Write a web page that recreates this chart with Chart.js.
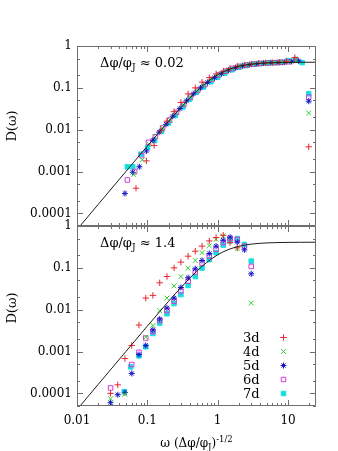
<!DOCTYPE html>
<html>
<head>
<meta charset="utf-8">
<script src="https://cdn.jsdelivr.net/npm/chart.js@4.4.1/dist/chart.umd.min.js"></script>
<style>
  html, body { margin: 0; padding: 0; background: #fff; }
  #wrap { position: relative; width: 338px; height: 451px; }
  #wrap canvas { position: absolute; left: 0; top: 0; }
</style>
</head>
<body>
<div id="wrap">
  <canvas id="panelTop" width="338" height="451"></canvas>
  <canvas id="panelBottom" width="338" height="451"></canvas>
</div>
<script>
// ---- axes ----
const xMin = 0.01, xMax = 25;
const yMin = 5e-5, yMax = 1;
const xTickValues = [0.01, 0.1, 1, 10];
const xTickLabels = ['0.01', '0.1', '1', '10'];
const yTickValues = [1, 0.1, 0.01, 0.001, 0.0001];
const yTickLabels = ['1', '0.1', '0.01', '0.001', '0.0001'];

// ---- series ----
const seriesNames = ['3d', '4d', '5d', '6d', '7d'];
const panelValues = ['0.02', '1.4'];

// reference curve D(ω)
const curveX = [0.01, 0.02, 0.05, 0.1, 0.15, 0.2, 0.3, 0.4, 0.5, 0.6, 0.7, 0.8, 1.0, 1.2, 1.5, 2.0, 2.5, 3.0, 4.0, 5.0, 7.0, 10, 15, 25];
const curveY = [4.1e-5, 1.64e-4, 1.02e-3, 0.00406, 0.009, 0.0158, 0.0338, 0.0566, 0.082, 0.109, 0.135, 0.16, 0.205, 0.242, 0.284, 0.328, 0.353, 0.369, 0.386, 0.394, 0.402, 0.406, 0.408, 0.409];

// Δφ/φJ ≈ 0.02
const top3dX = [0.069, 0.097, 0.125, 0.155, 0.19, 0.24, 0.30, 0.38, 0.48, 0.60, 0.76, 0.95, 1.2, 1.5, 1.9, 2.4, 3.0, 3.8, 4.8, 6.0, 7.6, 9.5, 12.5, 19.7];
const top3dY = [0.0004, 0.0018, 0.0042, 0.0095, 0.016, 0.027, 0.045, 0.072, 0.10, 0.137, 0.175, 0.215, 0.25, 0.29, 0.33, 0.35, 0.37, 0.385, 0.395, 0.40, 0.41, 0.43, 0.53, 0.0039];
const top4dX = [0.064, 0.085, 0.105, 0.13, 0.165, 0.21, 0.26, 0.33, 0.41, 0.52, 0.65, 0.82, 1.03, 1.3, 1.6, 2.1, 2.6, 3.3, 4.1, 5.2, 6.5, 8.2, 10.3, 13, 19.7];
const top4dY = [0.00085, 0.0019, 0.0045, 0.0068, 0.011, 0.017, 0.026, 0.040, 0.060, 0.088, 0.12, 0.16, 0.21, 0.255, 0.29, 0.33, 0.355, 0.375, 0.39, 0.40, 0.405, 0.41, 0.42, 0.45, 0.025];
const top5dX = [0.048, 0.062, 0.077, 0.097, 0.12, 0.147, 0.185, 0.23, 0.29, 0.36, 0.45, 0.57, 0.72, 0.9, 1.13, 1.42, 1.8, 2.26, 2.85, 3.6, 4.5, 5.7, 7.2, 9.0, 11.3, 14.2, 19.7];
const top5dY = [0.0003, 0.00096, 0.0013, 0.0031, 0.0056, 0.0087, 0.0135, 0.021, 0.032, 0.049, 0.072, 0.10, 0.135, 0.175, 0.22, 0.265, 0.305, 0.335, 0.36, 0.375, 0.39, 0.40, 0.405, 0.41, 0.43, 0.44, 0.048];
const top6dX = [0.052, 0.066, 0.083, 0.104, 0.13, 0.165, 0.207, 0.26, 0.33, 0.41, 0.52, 0.66, 0.83, 1.04, 1.31, 1.65, 2.07, 2.6, 3.3, 4.1, 5.2, 6.6, 8.3, 10.4, 13.1, 19.7];
const top6dY = [0.00063, 0.001, 0.0024, 0.005, 0.0068, 0.011, 0.017, 0.026, 0.040, 0.06, 0.087, 0.12, 0.16, 0.205, 0.25, 0.29, 0.325, 0.35, 0.37, 0.385, 0.395, 0.40, 0.41, 0.42, 0.46, 0.06];
const top7dX = [0.052, 0.062, 0.081, 0.101, 0.127, 0.16, 0.2, 0.25, 0.32, 0.4, 0.5, 0.63, 0.8, 1.0, 1.26, 1.6, 2.0, 2.5, 3.2, 4.0, 5.0, 6.3, 8.0, 10, 12.8, 15.9, 19.7];
const top7dY = [0.0013, 0.0013, 0.0026, 0.0038, 0.0055, 0.0093, 0.0145, 0.022, 0.035, 0.054, 0.078, 0.105, 0.14, 0.18, 0.225, 0.27, 0.31, 0.34, 0.365, 0.38, 0.39, 0.40, 0.405, 0.45, 0.48, 0.40, 0.072];

// Δφ/φJ ≈ 1.4
const bot3dX = [0.030, 0.038, 0.048, 0.060, 0.076, 0.095, 0.12, 0.15, 0.19, 0.24, 0.30, 0.38, 0.48, 0.60, 0.76, 0.95, 1.2, 1.5, 1.9];
const bot3dY = [1.0e-4, 1.6e-4, 6.8e-4, 0.0014, 0.0043, 0.019, 0.022, 0.044, 0.062, 0.10, 0.137, 0.19, 0.25, 0.33, 0.44, 0.53, 0.60, 0.40, 0.30];
const bot4dX = [0.030, 0.048, 0.095, 0.12, 0.15, 0.19, 0.24, 0.30, 0.38, 0.48, 0.60, 0.76, 0.95, 1.2, 1.9, 3.0];
const bot4dY = [7.4e-5, 9.5e-5, 0.0022, 0.0042, 0.0095, 0.019, 0.037, 0.062, 0.098, 0.15, 0.23, 0.34, 0.48, 0.58, 0.29, 0.0144];
const bot5dX = [0.030, 0.038, 0.048, 0.060, 0.076, 0.095, 0.12, 0.15, 0.19, 0.24, 0.30, 0.38, 0.48, 0.60, 0.76, 0.95, 1.2, 1.5, 1.9, 2.4, 3.0];
const bot5dY = [6.0e-5, 9.3e-5, 1.05e-4, 3.0e-4, 8.5e-4, 0.0014, 0.0033, 0.006, 0.011, 0.019, 0.034, 0.058, 0.095, 0.15, 0.22, 0.33, 0.46, 0.54, 0.41, 0.27, 0.072];
const bot6dX = [0.030, 0.060, 0.076, 0.095, 0.12, 0.15, 0.19, 0.24, 0.30, 0.38, 0.48, 0.60, 0.76, 0.95, 1.2, 1.5, 1.9, 2.4, 3.0];
const bot6dY = [1.35e-4, 4.9e-4, 9.6e-4, 0.0021, 0.003, 0.0055, 0.0095, 0.016, 0.028, 0.048, 0.08, 0.13, 0.19, 0.28, 0.40, 0.50, 0.48, 0.33, 0.108];
const bot7dX = [0.047, 0.058, 0.076, 0.095, 0.12, 0.15, 0.19, 0.24, 0.30, 0.38, 0.48, 0.60, 0.76, 0.95, 1.2, 1.5, 1.9, 2.4, 3.0];
const bot7dY = [1.1e-4, 4.3e-4, 7.9e-4, 0.0013, 0.0027, 0.0048, 0.008, 0.014, 0.023, 0.038, 0.062, 0.099, 0.157, 0.23, 0.35, 0.44, 0.50, 0.36, 0.145];

// ---- styling ----
const FONT = "'DejaVu Serif', 'Liberation Serif', serif";
const markers = [
  { pointStyle: 'cross',    color: '#e8262e', radius: 3.2, fill: false },
  { pointStyle: 'crossRot', color: '#2fd12f', radius: 3.4, fill: false },
  { pointStyle: 'star',     color: '#1515c8', radius: 3.0, fill: false },
  { pointStyle: 'rect',     color: '#d83ad8', radius: 3.2, fill: false },
  { pointStyle: 'rect',     color: '#19dede', radius: 3.2, fill: true }
];
const frameColor = '#6e6e6e';

function toPoints(xs, ys) { return xs.map((x, i) => ({ x: x, y: ys[i] })); }

function buildDatasets(seriesXY) {
  const sets = [{
    label: 'curve',
    data: toPoints(curveX, curveY),
    showLine: true,
    borderColor: '#1e1e1e',
    borderWidth: 1,
    pointRadius: 0,
    fill: false
  }];
  seriesXY.forEach((s, i) => {
    const m = markers[i];
    sets.push({
      label: seriesNames[i],
      data: toPoints(s[0], s[1]),
      showLine: false,
      pointStyle: m.pointStyle,
      pointRadius: m.radius,
      pointBorderWidth: 1,
      pointBorderColor: m.color,
      pointBackgroundColor: m.fill ? m.color : 'rgba(0,0,0,0)'
    });
  });
  return sets;
}

// frame with inward tick marks on all four sides
const framePlugin = {
  id: 'frame',
  afterDatasetsDraw(chart) {
    const { ctx, chartArea: a, scales } = chart;
    const xs = scales.x, ys = scales.y;
    ctx.save();
    ctx.strokeStyle = frameColor;
    ctx.lineWidth = 1;
    ctx.beginPath();
    ctx.rect(a.left + 0.5, a.top + 0.5, a.right - a.left - 1, a.bottom - a.top - 1);
    ctx.stroke();
    const major = 6, minor = 3;
    ctx.beginPath();
    for (let e = -2; e <= 1; e++) {
      for (let k = 1; k <= 9; k++) {
        const v = k * Math.pow(10, e);
        if (v < xMin || v > xMax) continue;
        const px = Math.round(xs.getPixelForValue(v)) + 0.5;
        const len = k === 1 ? major : minor;
        ctx.moveTo(px, a.top); ctx.lineTo(px, a.top + len);
        ctx.moveTo(px, a.bottom); ctx.lineTo(px, a.bottom - len);
      }
    }
    for (let e = -5; e <= 0; e++) {
      [1, 2, 5].forEach(k => {
        const v = k * Math.pow(10, e);
        if (v < yMin || v > yMax) return;
        const py = Math.round(ys.getPixelForValue(v)) + 0.5;
        const len = k === 1 ? major : minor;
        ctx.moveTo(a.left, py); ctx.lineTo(a.left + len, py);
        ctx.moveTo(a.right, py); ctx.lineTo(a.right - len, py);
      });
    }
    ctx.stroke();
    ctx.restore();
  }
};

// draws a run of [text, size, baselineShift] pieces starting at x
function drawRich(ctx, pieces, x, y) {
  let cx = x;
  pieces.forEach(p => {
    ctx.font = p[1] + 'px ' + FONT;
    ctx.fillText(p[0], cx, y + p[2]);
    cx += ctx.measureText(p[0]).width;
  });
  return cx - x;
}
function richWidth(ctx, pieces) {
  let w = 0;
  pieces.forEach(p => { ctx.font = p[1] + 'px ' + FONT; w += ctx.measureText(p[0]).width; });
  return w;
}

function textPlugin(panelIndex, titleCenterY) {
  return {
    id: 'panelText' + panelIndex,
    afterDraw(chart) {
      const { ctx, chartArea: a } = chart;
      ctx.save();
      ctx.fillStyle = '#000';
      ctx.textBaseline = 'alphabetic';
      ctx.textAlign = 'left';
      // y-axis title
      ctx.save();
      ctx.translate(16, titleCenterY);
      ctx.rotate(-Math.PI / 2);
      ctx.font = '13px ' + FONT;
      ctx.textAlign = 'center';
      ctx.fillText('D(ω)', 0, 0);
      ctx.restore();
      // panel annotation
      drawRich(ctx, [['Δφ/φ', 13, 0], ['J', 9, 3], [' ≈ ' + panelValues[panelIndex], 13, 0]], 100, a.top + 21);
      if (panelIndex === 1) {
        // x-axis title
        const pieces = [['ω (Δφ/φ', 12, 0], ['J', 8.5, 3], [')', 12, 0], ['-1/2', 8.5, -5]];
        const w = richWidth(ctx, pieces);
        drawRich(ctx, pieces, (a.left + a.right) / 2 - w / 2, 447);
        // legend
        const rowY0 = 337.5, rowStep = 14;
        seriesNames.forEach((name, i) => {
          const y = rowY0 + i * rowStep;
          ctx.font = '13px ' + FONT;
          ctx.textBaseline = 'middle';
          ctx.fillStyle = '#000';
          ctx.fillText(name, 243, y + 1);
          const m = markers[i];
          ctx.strokeStyle = m.color;
          ctx.fillStyle = m.fill ? m.color : 'rgba(0,0,0,0)';
          ctx.lineWidth = 1;
          Chart.helpers.drawPoint(ctx, { pointStyle: m.pointStyle, radius: m.radius, borderWidth: 1 }, 283.5, y);
          ctx.fillStyle = '#000';
        });
      }
      ctx.restore();
    }
  };
}

function makeChart(canvasId, panelIndex, seriesXY) {
  const isBottom = panelIndex === 1;
  const xScale = {
    type: 'logarithmic', min: xMin, max: xMax, display: isBottom,
    afterBuildTicks: s => { s.ticks = xTickValues.map(v => ({ value: v, major: true })); },
    grid: { display: false, drawTicks: false, tickLength: 0 },
    border: { display: false },
    ticks: {
      autoSkip: false, maxRotation: 0, padding: 8, color: '#000',
      font: { family: FONT, size: 12 },
      callback: v => xTickLabels[xTickValues.indexOf(v)]
    }
  };
  if (isBottom) xScale.afterFit = s => { s.height = 45; };
  return new Chart(document.getElementById(canvasId), {
    type: 'scatter',
    data: { datasets: buildDatasets(seriesXY) },
    options: {
      responsive: false,
      animation: false,
      devicePixelRatio: 1,
      events: [],
      layout: { padding: isBottom ? { top: 226, right: 22, bottom: 0, left: 0 } : { top: 46, right: 22, bottom: 225, left: 0 } },
      plugins: { legend: { display: false }, tooltip: { enabled: false } },
      scales: {
        x: xScale,
        y: {
          type: 'logarithmic', min: yMin, max: yMax,
          afterFit: s => { s.width = 77; },
          afterBuildTicks: s => { s.ticks = yTickValues.slice().reverse().map(v => ({ value: v, major: true })); },
          grid: { display: false, drawTicks: false, tickLength: 0 },
          border: { display: false },
          ticks: {
            autoSkip: false, padding: 5, color: '#000',
            font: { family: FONT, size: 12 },
            callback: v => yTickLabels[yTickValues.indexOf(v)]
          }
        }
      }
    },
    plugins: [framePlugin, textPlugin(panelIndex, isBottom ? 308 : 126)]
  });
}

makeChart('panelTop', 0, [[top3dX, top3dY], [top4dX, top4dY], [top5dX, top5dY], [top6dX, top6dY], [top7dX, top7dY]]);
makeChart('panelBottom', 1, [[bot3dX, bot3dY], [bot4dX, bot4dY], [bot5dX, bot5dY], [bot6dX, bot6dY], [bot7dX, bot7dY]]);
</script>
</body>
</html>
